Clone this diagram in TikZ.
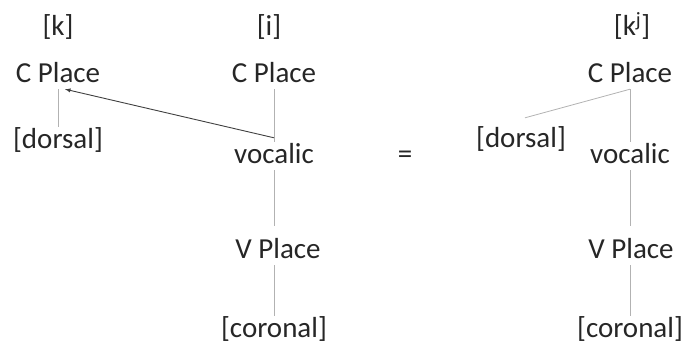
\documentclass[tikz,border=0pt]{standalone}
\usepackage{fontspec}
\setmainfont{Carlito}
\usetikzlibrary{positioning}

\begin{document}
\begin{tikzpicture}[x=1pt,y=-1pt,
    lbl/.style={anchor=base,inner sep=0pt,text height=21pt,text depth=7pt,
      font=\fontsize{29}{35}\selectfont,text=black!85},
    br/.style={draw=black!30,line width=0.8pt},
    arr/.style={draw=black!75,line width=0.9pt,-latex}]
  \useasboundingbox (0,0) rectangle (684,345);
  % [k]
  \node[lbl] (k) at (58,36) {[k]};
  \node[lbl] (cpk) at (58,82) {C Place};
  \node[lbl] (dk) at (58,148) {[dorsal]};
  % [i]
  \node[lbl] (i) at (269,36) {[i]};
  \node[lbl] (cpi) at (274,82) {C Place};
  \node[lbl] (voc) at (274,163) {vocalic};
  \node[lbl] (vp) at (278,258) {V Place};
  \node[lbl] (cor) at (274,337) {[coronal]};
  \node[lbl] (eq) at (405,163) {=};
  % [k^j]
  \node[lbl] (kj) at (632,36) {[k\textsuperscript{j}]};
  \node[lbl] (cpj) at (630,82) {C Place};
  \node[lbl] (dj) at (521,147) {[dorsal]};
  \node[lbl] (vocj) at (630,163) {vocalic};
  \node[lbl] (vpj) at (631,258) {V Place};
  \node[lbl] (corj) at (630,337) {[coronal]};

  \draw[br] (cpk.south) -- (dk.north);
  \draw[br] (cpi.south) -- (voc.north);
  \draw[br,shorten >=11pt] (voc.south) -- (voc.south |- vp.north);
  \draw[br] (cor.north |- vp.south) -- (cor.north);
  \draw[arr] ([yshift=4pt]voc.north) -- ([xshift=7pt]cpk.south);

  \draw[br] (cpj.south) -- ([xshift=4pt,yshift=8pt]dj.north);
  \draw[br] (cpj.south) -- (vocj.north);
  \draw[br,shorten >=11pt] (vocj.south) -- (vocj.south |- vpj.north);
  \draw[br] (corj.north |- vpj.south) -- (corj.north);
\end{tikzpicture}
\end{document}
